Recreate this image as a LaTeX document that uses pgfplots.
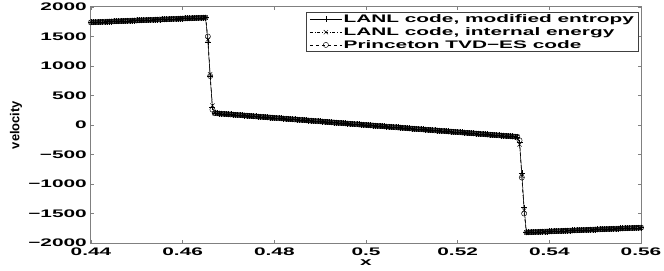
\documentclass[border=0pt]{standalone}
\usepackage{fontspec}
\setmainfont[FakeStretch=1.9]{Liberation Sans}
\newfontfamily\ylabfont{Liberation Sans}
\usepackage{pgfplots}
\usepackage{pgfplotstable}
\pgfplotsset{compat=1.18}
\pgfplotstableread{
x a b c
0.4400 1740 1740 1740
0.4405 1742 1742 1742
0.4410 1743 1743 1743
0.4415 1745 1745 1745
0.4420 1746 1746 1746
0.4425 1748 1748 1748
0.4430 1750 1750 1750
0.4435 1751 1751 1751
0.4440 1753 1753 1753
0.4445 1754 1754 1754
0.4450 1756 1756 1756
0.4455 1758 1758 1758
0.4460 1759 1759 1759
0.4465 1761 1761 1761
0.4470 1762 1762 1762
0.4475 1764 1764 1764
0.4480 1766 1766 1766
0.4485 1767 1767 1767
0.4490 1769 1769 1769
0.4495 1770 1770 1770
0.4500 1772 1772 1772
0.4505 1774 1774 1774
0.4510 1775 1775 1775
0.4515 1777 1777 1777
0.4520 1778 1778 1778
0.4525 1780 1780 1780
0.4530 1782 1782 1782
0.4535 1783 1783 1783
0.4540 1785 1785 1785
0.4545 1786 1786 1786
0.4550 1788 1788 1788
0.4555 1790 1790 1790
0.4560 1791 1791 1791
0.4565 1793 1793 1793
0.4570 1794 1794 1794
0.4575 1796 1796 1796
0.4580 1798 1798 1798
0.4585 1799 1799 1799
0.4590 1801 1801 1801
0.4595 1802 1802 1802
0.4600 1804 1804 1804
0.4605 1806 1806 1806
0.4610 1807 1807 1807
0.4615 1809 1809 1809
0.4620 1810 1810 1810
0.4625 1812 1812 1812
0.4630 1814 1814 1814
0.4635 1815 1815 1815
0.4640 1817 1817 1817
0.4645 1818 1818 1818
0.4650 1820 1820 1820
0.4655 1400 1450 1500
0.4660 820 860 830
0.4665 300 330 260
0.4670 200 200 200
0.4675 197 197 197
0.4680 194 194 194
0.4685 191 191 191
0.4690 188 188 188
0.4695 185 185 185
0.4700 182 182 182
0.4705 179 179 179
0.4710 176 176 176
0.4715 173 173 173
0.4720 170 170 170
0.4725 167 167 167
0.4730 164 164 164
0.4735 161 161 161
0.4740 158 158 158
0.4745 155 155 155
0.4750 152 152 152
0.4755 148 148 148
0.4760 145 145 145
0.4765 142 142 142
0.4770 139 139 139
0.4775 136 136 136
0.4780 133 133 133
0.4785 130 130 130
0.4790 127 127 127
0.4795 124 124 124
0.4800 121 121 121
0.4805 118 118 118
0.4810 115 115 115
0.4815 112 112 112
0.4820 109 109 109
0.4825 106 106 106
0.4830 103 103 103
0.4835 100 100 100
0.4840 97 97 97
0.4845 94 94 94
0.4850 91 91 91
0.4855 88 88 88
0.4860 85 85 85
0.4865 82 82 82
0.4870 79 79 79
0.4875 76 76 76
0.4880 73 73 73
0.4885 70 70 70
0.4890 67 67 67
0.4895 64 64 64
0.4900 61 61 61
0.4905 58 58 58
0.4910 55 55 55
0.4915 52 52 52
0.4920 48 48 48
0.4925 45 45 45
0.4930 42 42 42
0.4935 39 39 39
0.4940 36 36 36
0.4945 33 33 33
0.4950 30 30 30
0.4955 27 27 27
0.4960 24 24 24
0.4965 21 21 21
0.4970 18 18 18
0.4975 15 15 15
0.4980 12 12 12
0.4985 9 9 9
0.4990 6 6 6
0.4995 3 3 3
0.5000 0 0 0
0.5005 -3 -3 -3
0.5010 -6 -6 -6
0.5015 -9 -9 -9
0.5020 -12 -12 -12
0.5025 -15 -15 -15
0.5030 -18 -18 -18
0.5035 -21 -21 -21
0.5040 -24 -24 -24
0.5045 -27 -27 -27
0.5050 -30 -30 -30
0.5055 -33 -33 -33
0.5060 -36 -36 -36
0.5065 -39 -39 -39
0.5070 -42 -42 -42
0.5075 -45 -45 -45
0.5080 -48 -48 -48
0.5085 -52 -52 -52
0.5090 -55 -55 -55
0.5095 -58 -58 -58
0.5100 -61 -61 -61
0.5105 -64 -64 -64
0.5110 -67 -67 -67
0.5115 -70 -70 -70
0.5120 -73 -73 -73
0.5125 -76 -76 -76
0.5130 -79 -79 -79
0.5135 -82 -82 -82
0.5140 -85 -85 -85
0.5145 -88 -88 -88
0.5150 -91 -91 -91
0.5155 -94 -94 -94
0.5160 -97 -97 -97
0.5165 -100 -100 -100
0.5170 -103 -103 -103
0.5175 -106 -106 -106
0.5180 -109 -109 -109
0.5185 -112 -112 -112
0.5190 -115 -115 -115
0.5195 -118 -118 -118
0.5200 -121 -121 -121
0.5205 -124 -124 -124
0.5210 -127 -127 -127
0.5215 -130 -130 -130
0.5220 -133 -133 -133
0.5225 -136 -136 -136
0.5230 -139 -139 -139
0.5235 -142 -142 -142
0.5240 -145 -145 -145
0.5245 -148 -148 -148
0.5250 -152 -152 -152
0.5255 -155 -155 -155
0.5260 -158 -158 -158
0.5265 -161 -161 -161
0.5270 -164 -164 -164
0.5275 -167 -167 -167
0.5280 -170 -170 -170
0.5285 -173 -173 -173
0.5290 -176 -176 -176
0.5295 -179 -179 -179
0.5300 -182 -182 -182
0.5305 -185 -185 -185
0.5310 -188 -188 -188
0.5315 -191 -191 -191
0.5320 -194 -194 -194
0.5325 -197 -197 -197
0.5330 -200 -200 -200
0.5335 -300 -330 -260
0.5340 -820 -860 -890
0.5345 -1400 -1450 -1500
0.5350 -1820 -1820 -1820
0.5355 -1818 -1818 -1818
0.5360 -1817 -1817 -1817
0.5365 -1815 -1815 -1815
0.5370 -1814 -1814 -1814
0.5375 -1812 -1812 -1812
0.5380 -1810 -1810 -1810
0.5385 -1809 -1809 -1809
0.5390 -1807 -1807 -1807
0.5395 -1806 -1806 -1806
0.5400 -1804 -1804 -1804
0.5405 -1802 -1802 -1802
0.5410 -1801 -1801 -1801
0.5415 -1799 -1799 -1799
0.5420 -1798 -1798 -1798
0.5425 -1796 -1796 -1796
0.5430 -1794 -1794 -1794
0.5435 -1793 -1793 -1793
0.5440 -1791 -1791 -1791
0.5445 -1790 -1790 -1790
0.5450 -1788 -1788 -1788
0.5455 -1786 -1786 -1786
0.5460 -1785 -1785 -1785
0.5465 -1783 -1783 -1783
0.5470 -1782 -1782 -1782
0.5475 -1780 -1780 -1780
0.5480 -1778 -1778 -1778
0.5485 -1777 -1777 -1777
0.5490 -1775 -1775 -1775
0.5495 -1774 -1774 -1774
0.5500 -1772 -1772 -1772
0.5505 -1770 -1770 -1770
0.5510 -1769 -1769 -1769
0.5515 -1767 -1767 -1767
0.5520 -1766 -1766 -1766
0.5525 -1764 -1764 -1764
0.5530 -1762 -1762 -1762
0.5535 -1761 -1761 -1761
0.5540 -1759 -1759 -1759
0.5545 -1758 -1758 -1758
0.5550 -1756 -1756 -1756
0.5555 -1754 -1754 -1754
0.5560 -1753 -1753 -1753
0.5565 -1751 -1751 -1751
0.5570 -1750 -1750 -1750
0.5575 -1748 -1748 -1748
0.5580 -1746 -1746 -1746
0.5585 -1745 -1745 -1745
0.5590 -1743 -1743 -1743
0.5595 -1742 -1742 -1742
0.5600 -1740 -1740 -1740
}\velo
\begin{document}
\begin{tikzpicture}
\path[use as bounding box] (-91bp,-28bp) rectangle (573bp,243bp);
\begin{axis}[
  scale only axis, width=550bp, height=236bp,
  xmin=0.44, xmax=0.56, ymin=-2000, ymax=2000,
  xtick={0.44,0.46,0.48,0.5,0.52,0.54,0.56},
  xticklabels={0.44,0.46,0.48,0.5,0.52,0.54,0.56},
  ytick={-2000,-1500,-1000,-500,0,500,1000,1500,2000},
  yticklabels={−2000,−1500,−1000,−500,0,500,1000,1500,2000},
  tick align=inside, major tick length=3bp,
  axis line style={draw=gray, line width=1bp},
  every tick/.style={gray, line width=0.6bp},
  tick label style={font=\fontsize{11}{12}\selectfont\bfseries},
  x tick label style={anchor=north, inner sep=0pt, yshift=-4.5bp},
  y tick label style={anchor=east, inner sep=0pt, xshift=-4bp},
  xlabel={x},
  xlabel style={at={(axis description cs:0.5,-0.072)}, anchor=north, inner sep=0pt, font=\fontsize{11}{12}\selectfont\bfseries},
  ylabel={velocity},
  ylabel style={at={(axis description cs:-0.1364,0.5)}, anchor=center, inner sep=0pt, font=\ylabfont\fontsize{13}{14}\selectfont\bfseries},
  legend style={at={(axis description cs:0.996,0.977)}, anchor=north east, draw=gray!50!black, line width=0.6bp, inner xsep=3bp, inner ysep=0.5bp, row sep=0.3bp, font=\fontsize{11}{12}\selectfont\bfseries, nodes={inner sep=1.5bp, anchor=west}},
  legend cell align=left,
  legend image code/.code={\draw[mark repeat=2,mark phase=2,#1] plot coordinates {(0bp,0bp) (16bp,0bp) (32bp,0bp)};},
]
\addplot[black, line width=0.5bp, mark=+, mark size=3bp, mark options={solid, line width=0.45bp}] table[x=x, y=a] {\velo};
\addlegendentry{LANL code, modified entropy}
\addplot[black, line width=0.5bp, dash dot, mark=x, mark size=3bp, mark options={solid, line width=0.45bp}] table[x=x, y=b] {\velo};
\addlegendentry{LANL code, internal energy}
\addplot[black, line width=0.5bp, dashed, mark=o, mark size=2.6bp, mark options={solid, line width=0.45bp}] table[x=x, y=c] {\velo};
\addlegendentry{Princeton TVD−ES code}
\end{axis}
\end{tikzpicture}
\end{document}
